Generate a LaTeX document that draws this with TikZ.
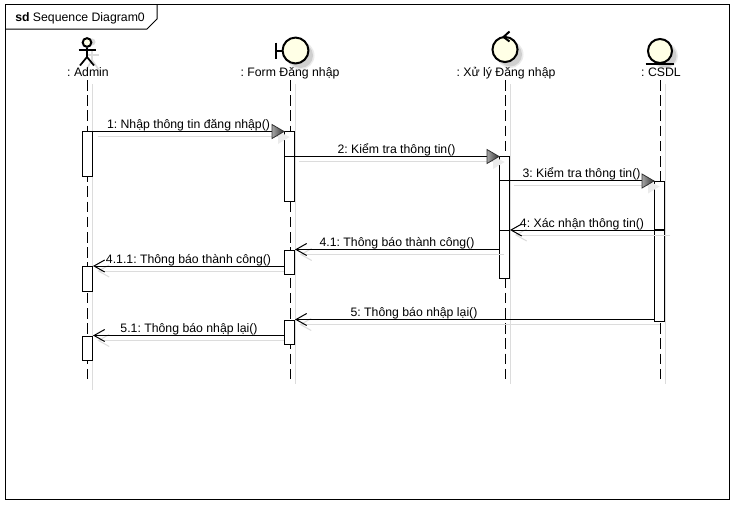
\documentclass[tikz,border=0pt]{standalone}
\usepackage{fontspec}
\setmainfont{Liberation Sans}
\frenchspacing
\usetikzlibrary{arrows.meta,calc}
\definecolor{iconfill}{HTML}{FFFFE6}
\definecolor{softgray}{HTML}{DCDCDC}
\definecolor{softergray}{HTML}{EBEBEB}
\definecolor{discgray}{HTML}{CFCFCF}
\tikzset{
  px/.style={x=0.75pt,y=-0.75pt},
  ink/.style={draw=black,line width=0.75pt},
  framebox/.style={ink},
  lifeline/.style={ink,dash pattern=on 7.9pt off 3.5pt},
  lifeshadow/.style={draw=softgray,line width=0.75pt},
  actbox/.style={ink,fill=white,rectangle,anchor=north,inner sep=0pt,minimum width=7.5pt},
  txt/.style={font=\fontsize{9.2pt}{11pt}\selectfont,inner sep=0pt,anchor=base},
  msgcall/.style={ink},
  msgback/.style={ink,-{Straight Barb[length=8pt,width=9pt,line width=0.75pt]}},
  msgshadow/.style={draw=softgray,line width=0.75pt,transform canvas={shift={(3.75pt,-3.75pt)}}},
  backshadow/.style={msgshadow,-{Straight Barb[length=8pt,width=9pt,line width=0.75pt]}},
  iconshape/.style={draw=black,line width=1.5pt,fill=iconfill},
  iconbar/.style={draw=black,line width=1.5pt},
  pics/solidhead/.style={code={
    \fill[softergray] (-6,0) -- (-6,13) -- (5.5,6) -- cycle;
    \shade[left color=black!35,right color=black!80,draw=black!80,line width=0.6pt]
      (-12,-6.5) -- (-12,7.5) -- (0,0.5) -- cycle;
  }},
}
\newcommand{\actnode}[4]{\node[actbox,minimum height={(#4-#3)*0.75pt}] (#1) at (#2,#3) {};}
\newcommand{\softdisc}[3]{%
  \fill[softergray] (#1+5,#2+5) circle (#3+1);
  \fill[discgray] (#1+5,#2+5) circle (#3-0.5);}
\begin{document}
\begin{tikzpicture}[px]
\useasboundingbox (0,0) rectangle (737,507);
\fill[white] (0,0) rectangle (737,507);
% frame
\draw[framebox] (5.5,4.5) rectangle (729.5,499.5);
\draw[framebox] (5.5,29) -- (147,29) -- (157,19) -- (157,4.5);
\node[txt,anchor=base west] (title) at (15,21) {\textbf{sd} Sequence Diagram0};
% lifeline end points
\foreach \n/\x/\e in {a/87/379,f/290/379,x/505/379,c/660/379}{
  \coordinate (\n top) at (\x,80);
  \coordinate (\n bot) at (\x,\e);
  \coordinate (\n stop) at (\x+5,84);
}
\coordinate (a sbot) at (92,390);
\coordinate (f sbot) at (295,384);
\coordinate (x sbot) at (510,384);
\coordinate (c sbot) at (665,384);
\foreach \n in {a,f,x,c}{
  \draw[lifeshadow] (\n stop) -- (\n\space sbot);
  \draw[lifeline] (\n top) -- (\n bot);
}
% icon shadows
\fill[softgray] (92,42) circle (3.5);
\draw[softgray,line width=1.2pt] (88,55) -- (99,55);
\draw[softgray,line width=1.2pt] (92,50) -- (92,60) -- (86,70) (92,60) -- (99,70);
\softdisc{295.5}{50.5}{13}
\softdisc{505}{49.5}{12.5}
\softdisc{660}{51}{12}
% actor
\node[circle,iconshape,inner sep=0pt,minimum size=6.5pt] (admin) at (87,42.5) {};
\draw[iconbar,line width=1.3pt] (admin.south) -- (87,57) -- (80,65.5);
\draw[iconbar,line width=1.3pt] (87,57) -- (94,65.5);
\draw[iconbar,line width=1.3pt] (78.5,50) -- (95.5,50);
% boundary
\node[circle,iconshape,inner sep=0pt,minimum size=19.4pt] (form) at (295.5,50.5) {};
\draw[iconbar] (form.west) -- (275.5,50.5);
\draw[iconbar] (275.5,42.5) -- (275.5,58.5);
% control
\node[circle,iconshape,inner sep=0pt,minimum size=18.8pt] (ctrl) at (505,49.5) {};
\draw[iconbar] (509.5,31.5) -- (503.5,37) -- (509.5,41.5);
% entity
\node[circle,iconshape,inner sep=0pt,minimum size=18pt] (ent) at (660,51) {};
\draw[iconbar] (645.5,63.5) -- (673.5,63.5);
% header labels
\node[txt] (la) at (88,76) {: Admin};
\node[txt] (lf) at (290,76) {: Form Đăng nhập};
\node[txt] (lx) at (506,76) {: Xử lý Đăng nhập};
\node[txt] (lc) at (661,76) {: CSDL};
% message y levels
\coordinate (y2) at (0,156);
\coordinate (y3) at (0,180.5);
\coordinate (y4) at (0,230);
\coordinate (y41) at (0,249.5);
\coordinate (y411) at (0,266);
\coordinate (y5) at (0,319.5);
\coordinate (y51) at (0,335.5);
% early shadows (under activations)
\coordinate (s2) at (294,156);
\coordinate (s3) at (509,180.5);
\draw[msgshadow] (92.5,131) -- (279,131);
\draw[msgshadow] (s2) -- (494,156);
\draw[msgshadow] (s3) -- (649,180.5);
\draw[backshadow] (284.5,266) -- (92.5,266);
\draw[backshadow] (284.5,335.5) -- (92.5,335.5);
\draw[backshadow] (654.5,319.5) -- (294.5,319.5);
% activations
\actnode{a1}{87.5}{131}{176}
\actnode{a2}{87.5}{266}{291}
\actnode{a3}{87.5}{335.5}{360}
\actnode{f1}{289.5}{131}{201}
\actnode{f2}{289.5}{249.5}{274}
\actnode{f3}{289.5}{319.5}{344}
\actnode{x1}{504.5}{156}{278}
\actnode{c1}{659.5}{180.5}{321}
% late shadows
\draw[backshadow] (c1.east |- y4) -- (x1.east |- y4);
\draw[backshadow] (x1.west |- y41) -- (f2.north east);
% messages
\draw[msgcall] (a1.north east) -- (f1.north west);
\pic at (f1.north west) {solidhead};
\draw[msgcall] (f1.west |- y2) -- (x1.north west);
\pic at (x1.north west) {solidhead};
\draw[msgcall] (x1.west |- y3) -- (c1.north west);
\pic at (c1.north west) {solidhead};
\draw[msgback] (c1.east |- y4) -- (x1.east |- y4);
\draw[line width=1.5pt] (c1.west |- y4) -- (c1.east |- y4);
\draw[ink] (x1.west |- y4) -- (x1.east |- y4);
\draw[msgback] (x1.west |- y41) -- (f2.north east);
\draw[msgback] (f2.west |- y411) -- (a2.north east);
\draw[msgback] (c1.west |- y5) -- (f3.north east);
\draw[msgback] (f3.west |- y51) -- (a3.north east);
% message labels
\node[txt] (t1) at (188.5,128) {1: Nhập thông tin đăng nhập()};
\node[txt] (t2) at (396.5,153) {2: Kiểm tra thông tin()};
\node[txt] (t3) at (581.5,177) {3: Kiểm tra thông tin()};
\node[txt] (t4) at (582,227) {4: Xác nhận thông tin()};
\node[txt] (t41) at (397,246) {4.1: Thông báo thành công()};
\node[txt] (t411) at (188.5,263) {4.1.1: Thông báo thành công()};
\node[txt] (t5) at (414,316) {5: Thông báo nhập lại()};
\node[txt] (t51) at (189,332) {5.1: Thông báo nhập lại()};
\end{tikzpicture}
\end{document}
